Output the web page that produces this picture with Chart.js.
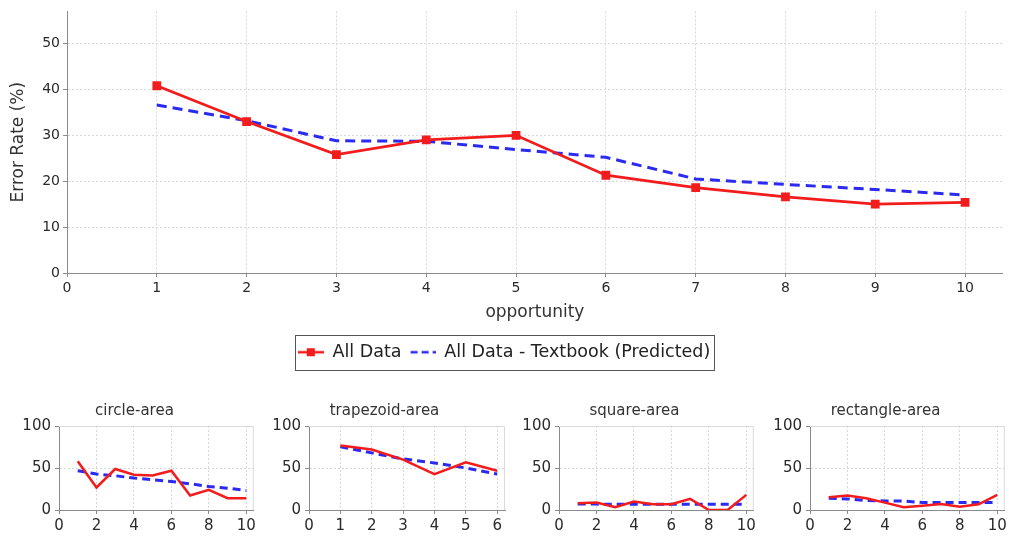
<!DOCTYPE html>
<html><head><meta charset="utf-8">
<script src="https://cdn.jsdelivr.net/npm/chart.js@4/dist/chart.umd.min.js"></script>
<style>
html,body{margin:0;padding:0;background:#fff;}
body{width:1009px;height:538px;position:relative;overflow:hidden;}
canvas{position:absolute;}
</style></head><body>
<canvas id="main" width="1009" height="373" style="left:0;top:0;width:1009px;height:373px"></canvas>
<canvas id="c1" width="245" height="140" style="left:14px;top:398px;width:245px;height:140px"></canvas>
<canvas id="c2" width="245" height="140" style="left:264px;top:398px;width:245px;height:140px"></canvas>
<canvas id="c3" width="245" height="140" style="left:514px;top:398px;width:245px;height:140px"></canvas>
<canvas id="c4" width="245" height="140" style="left:765px;top:398px;width:245px;height:140px"></canvas>
<script>
// ---- data ----
const opportunities = [1, 2, 3, 4, 5, 6, 7, 8, 9, 10];
const allDataActual = [40.8, 33.0, 25.8, 29.0, 30.0, 21.3, 18.6, 16.6, 15.0, 15.4];
const allDataPredicted = [36.6, 33.2, 28.8, 28.7, 26.9, 25.2, 20.5, 19.3, 18.2, 17.0];

const mainYTicks = [0, 10, 20, 30, 40, 50];
const mainXTicks = [0, 1, 2, 3, 4, 5, 6, 7, 8, 9, 10];

const seriesNames = ['All Data', 'All Data - Textbook (Predicted)'];
const xTitle = 'opportunity';
const yTitle = 'Error Rate (%)';

const circleTitle = 'circle-area';
const circleOpp = [1, 2, 3, 4, 5, 6, 7, 8, 9, 10];
const circleActual = [58, 26.8, 48.8, 42, 41.2, 46.8, 17.2, 24, 14, 14];
const circlePredicted = [46.8, 42.8, 40.8, 38, 36, 34, 31.2, 28, 26, 23.2];

const trapTitle = 'trapezoid-area';
const trapOpp = [1, 2, 3, 4, 5, 6];
const trapActual = [76.8, 72, 60, 42.8, 56.8, 46.8];
const trapPredicted = [75.2, 68, 60.8, 56, 50, 42.8];

const squareTitle = 'square-area';
const squareOpp = [1, 2, 3, 4, 5, 6, 7, 8, 9, 10];
const squareActual = [8, 8.8, 3.2, 10, 6.8, 6.8, 13.2, 0, 0, 18];
const squarePredicted = [7.2, 7.0, 6.8, 6.8, 6.8, 6.8, 6.8, 6.8, 6.8, 6.8];

const rectTitle = 'rectangle-area';
const rectOpp = [1, 2, 3, 4, 5, 6, 7, 8, 9, 10];
const rectActual = [15.2, 17.2, 14, 8.8, 3.2, 5.2, 7.2, 4, 6.8, 18];
const rectPredicted = [14, 13.2, 11.2, 10.8, 10.8, 8.8, 8.8, 8.8, 8.8, 8.8];

const smallYTicks = [0, 50, 100];

// ---- styling ----
const RED = '#f21c1c';
const BLUE = '#2a2af0';
const FONT = 'DejaVu Sans';
Chart.defaults.font.family = FONT;
Chart.defaults.color = '#2a2a2a';

function pts(xs, ys) { return xs.map((x, i) => ({x: x, y: ys[i]})); }

const outlinePlugin = {
  id: 'outline',
  beforeDatasetsDraw(chart) {
    const a = chart.chartArea, ctx = chart.ctx;
    ctx.save();
    ctx.strokeStyle = '#dadada';
    ctx.lineWidth = 1;
    ctx.beginPath();
    ctx.moveTo(a.left, a.top + 0.5); ctx.lineTo(a.right - 0.5, a.top + 0.5); ctx.lineTo(a.right - 0.5, a.bottom);
    ctx.stroke();
    ctx.restore();
  }
};

function makeIcon(kind) {
  const c = document.createElement('canvas');
  c.width = 26; c.height = 12;
  const g = c.getContext('2d');
  g.lineWidth = 2.5;
  if (kind === 0) {
    g.strokeStyle = RED; g.fillStyle = RED;
    g.beginPath(); g.moveTo(0, 6); g.lineTo(26, 6); g.stroke();
    g.fillRect(9, 2, 8, 8);
  } else {
    g.strokeStyle = BLUE;
    g.setLineDash([7, 4]);
    g.beginPath(); g.moveTo(1, 6); g.lineTo(26, 6); g.stroke();
  }
  return c;
}
const legendIcons = [makeIcon(0), makeIcon(1)];

const legendBoxPlugin = {
  id: 'legendBox',
  afterDraw(chart) {
    const hb = chart.legend && chart.legend.legendHitBoxes;
    if (!hb || !hb.length) return;
    const ctx = chart.ctx;
    const l = hb[0].left - 3, r = hb[hb.length - 1].left + hb[hb.length - 1].width + 4;
    const t = hb[0].top - 9, b = hb[0].top + hb[0].height + 8;
    ctx.save();
    ctx.strokeStyle = '#555';
    ctx.lineWidth = 1;
    ctx.strokeRect(Math.round(l) + 0.5, Math.round(t) + 0.5, Math.round(r - l), Math.round(b - t));
    ctx.restore();
  }
};

function tickList(values) {
  return function (scale) { scale.ticks = values.map(v => ({value: v})); };
}

// ---- main chart ----
new Chart(document.getElementById('main'), {
  type: 'line',
  data: {
    datasets: [
      {label: seriesNames[0], data: pts(opportunities, allDataActual), borderColor: RED, backgroundColor: RED,
       borderWidth: 2.8, pointStyle: 'rect', pointRadius: 6.2, pointBorderWidth: 0, tension: 0, order: 1},
      {label: seriesNames[1], data: pts(opportunities, allDataPredicted), borderColor: BLUE, backgroundColor: BLUE,
       borderWidth: 3, borderDash: [10, 6], pointRadius: 0, tension: 0, order: 2}
    ]
  },
  options: {
    responsive: false, animation: false,
    layout: {padding: {top: 8, right: 1, left: 0, bottom: 2}},
    plugins: {
      legend: {
        display: true, position: 'bottom',
        labels: {
          usePointStyle: true, pointStyleWidth: 26, boxHeight: 16, padding: 8,
          font: {size: 17.5, family: FONT}, color: '#222',
          generateLabels(chart) {
            return chart.data.datasets.map((ds, i) => ({
              text: ds.label, pointStyle: legendIcons[i], datasetIndex: i, hidden: false,
              lineWidth: 0, strokeStyle: 'rgba(0,0,0,0)', fillStyle: 'rgba(0,0,0,0)', fontColor: '#222'
            }));
          }
        }
      },
      tooltip: {enabled: false}
    },
    scales: {
      x: {
        type: 'linear', min: 0, max: 10.42,
        afterFit(s) { s.height = 62.5; },
        afterBuildTicks: tickList(mainXTicks),
        ticks: {font: {size: 14}, color: '#2a2a2a', padding: 3, maxRotation: 0, autoSkip: false},
        grid: {color: '#d8d8d8', tickColor: '#8a8a8a', tickLength: 4},
        border: {color: '#8a8a8a', dash: [2, 2]},
        title: {display: true, text: xTitle, font: {size: 17}, color: '#333', padding: {top: 0, bottom: 12.5}}
      },
      y: {
        type: 'linear', min: 0, max: 57,
        afterFit(s) { s.width = 67; },
        afterBuildTicks: tickList(mainYTicks),
        ticks: {font: {size: 14}, color: '#2a2a2a', padding: 3, autoSkip: false},
        grid: {color: '#d8d8d8', tickColor: '#8a8a8a', tickLength: 4},
        border: {color: '#8a8a8a', dash: [2, 2]},
        title: {display: true, text: yTitle, font: {size: 17}, color: '#333', padding: {top: 8, bottom: 0}}
      }
    }
  },
  plugins: [legendBoxPlugin]
});

// ---- small charts ----
function makeSmall(id, title, opp, actual, predicted, xMax, xTicks) {
  new Chart(document.getElementById(id), {
    type: 'line',
    data: {
      datasets: [
        {label: seriesNames[0], data: pts(opp, actual), borderColor: RED, borderWidth: 2.5, pointRadius: 0, tension: 0, order: 1},
        {label: seriesNames[1], data: pts(opp, predicted), borderColor: BLUE, borderWidth: 3, borderDash: [8, 5], pointRadius: 0, tension: 0, order: 2}
      ]
    },
    options: {
      responsive: false, animation: false,
      layout: {padding: {top: 0, right: 4, left: 0, bottom: 0}},
      plugins: {
        legend: {display: false}, tooltip: {enabled: false},
        title: {display: true, text: title, font: {size: 15, weight: 'normal'}, color: '#333', padding: {top: 4, bottom: 6}}
      },
      scales: {
        x: {
          type: 'linear', min: 0, max: xMax,
          afterFit(s) { s.height = 28; },
          afterBuildTicks: tickList(xTicks),
          ticks: {font: {size: 15}, color: '#2a2a2a', padding: 3, maxRotation: 0, autoSkip: false},
          grid: {color: '#d8d8d8', tickColor: '#8a8a8a', tickLength: 4},
          border: {color: '#8a8a8a', dash: [2, 2]}
        },
        y: {
          type: 'linear', min: 0, max: 100,
          afterFit(s) { s.width = 45; },
          afterBuildTicks: tickList(smallYTicks),
          ticks: {font: {size: 15}, color: '#2a2a2a', padding: 4, autoSkip: false},
          grid: {color: '#d8d8d8', tickColor: '#8a8a8a', tickLength: 4},
          border: {color: '#8a8a8a', dash: [2, 2]}
        }
      }
    },
    plugins: [outlinePlugin]
  });
}

makeSmall('c1', circleTitle, circleOpp, circleActual, circlePredicted, 10.4, [0, 2, 4, 6, 8, 10]);
makeSmall('c2', trapTitle, trapOpp, trapActual, trapPredicted, 6.25, [0, 1, 2, 3, 4, 5, 6]);
makeSmall('c3', squareTitle, squareOpp, squareActual, squarePredicted, 10.4, [0, 2, 4, 6, 8, 10]);
makeSmall('c4', rectTitle, rectOpp, rectActual, rectPredicted, 10.4, [0, 2, 4, 6, 8, 10]);
</script>
</body></html>
